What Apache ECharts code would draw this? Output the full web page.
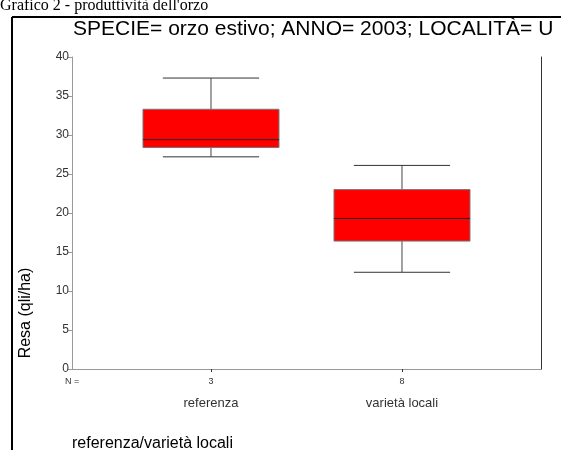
<!DOCTYPE html>
<html>
<head>
<meta charset="utf-8">
<script src="https://cdn.jsdelivr.net/npm/echarts@6/dist/echarts.min.js"></script>
<style>html,body{margin:0;padding:0;background:#fff;}#c{width:561px;height:450px;}</style>
</head>
<body>
<div id="c"></div>
<script>
// ---- data ----
const categories = ['referenza', 'varietà locali'];
const counts = [3, 8];
// [min, Q1, median, Q3, max]
const boxStats = [
  [27.2, 28.4, 29.4, 33.3, 37.3],
  [12.4, 16.4, 19.3, 23.0, 26.1]
];
const yTicks = [0, 5, 10, 15, 20, 25, 30, 35, 40];
const pageTitle = "Grafico 2 - produttività dell'orzo";
const chartTitle = 'SPECIE= orzo estivo; ANNO= 2003; LOCALITÀ= U';
const yName = 'Resa (qli/ha)';
const xName = 'referenza/varietà locali';

const seriesData = boxStats.map((s, i) => [i + 1].concat(s));
const catPos = categories.map((c, i) => i + 1);

const chart = echarts.init(document.getElementById('c'), null, {renderer: 'canvas'});
const font = 'Liberation Sans, Arial, sans-serif';

chart.setOption({
  animation: false,
  backgroundColor: '#fff',
  graphic: [
    {type: 'text', x: 0, y: 6, style: {text: pageTitle, font: '16px "Liberation Serif", "Times New Roman", serif', fill: '#000', verticalAlign: 'middle'}},
    {type: 'line', shape: {x1: 12, y1: 17, x2: 561, y2: 17}, style: {stroke: '#000', lineWidth: 2}},
    {type: 'line', shape: {x1: 12, y1: 17, x2: 12, y2: 450}, style: {stroke: '#000', lineWidth: 2}},
    {type: 'text', x: 73, y: 29, style: {text: chartTitle, font: '21px ' + font, fill: '#000', verticalAlign: 'middle'}},
    {type: 'text', x: 26, y: 313, rotation: Math.PI / 2, style: {text: yName, font: '16px ' + font, fill: '#000', align: 'center', verticalAlign: 'middle'}},
    {type: 'text', x: 65, y: 382, style: {text: 'N =', font: '9px ' + font, fill: '#333', verticalAlign: 'middle'}},
    {type: 'text', x: 72, y: 444, style: {text: xName, font: '16px ' + font, fill: '#000', verticalAlign: 'middle'}}
  ],
  grid: {left: 72, top: 57, width: 469, height: 312},
  xAxis: [{
    type: 'value', min: 0.2723, max: 2.7278, position: 'bottom',
    axisLine: {lineStyle: {color: '#333', width: 1}},
    splitLine: {show: false},
    axisTick: {customValues: catPos, length: 3, lineStyle: {color: '#333'}},
    axisLabel: {
      customValues: catPos, margin: 7,
      formatter: v => '{n|' + counts[Math.round(v) - 1] + '}\n{c|' + categories[Math.round(v) - 1] + '}',
      rich: {
        n: {fontSize: 9, fontFamily: font, color: '#333', lineHeight: 12},
        c: {fontSize: 13, fontFamily: font, color: '#333', lineHeight: 30}
      }
    }
  }, {
    type: 'value', min: 0.2723, max: 2.7278, position: 'top',
    axisLine: {lineStyle: {color: '#999'}}, axisTick: {show: false}, axisLabel: {show: false}, splitLine: {show: false}
  }],
  yAxis: [{
    type: 'value', min: 0, max: 40, interval: 5,
    axisLine: {show: true, lineStyle: {color: '#999'}},
    axisTick: {show: true, length: 4, lineStyle: {color: '#999'}},
    axisLabel: {fontSize: 12, fontFamily: font, color: '#333', margin: 3, formatter: v => yTicks.includes(v) ? String(v) : ''},
    splitLine: {show: false}
  }, {
    type: 'value', min: 0, max: 40, position: 'right',
    axisLine: {show: true, lineStyle: {color: '#333'}}, axisTick: {show: false}, axisLabel: {show: false}, splitLine: {show: false}
  }],
  series: [{
    type: 'custom',
    xAxisIndex: 0, yAxisIndex: 0,
    data: seriesData,
    encode: {x: 0, y: [1, 2, 3, 4, 5]},
    renderItem: function (params, api) {
      const x = api.value(0);
      const halfBox = 0.356, halfCap = 0.252;
      const pMin = api.coord([x, api.value(1)]);
      const pQ1 = api.coord([x, api.value(2)]);
      const pMed = api.coord([x, api.value(3)]);
      const pQ3 = api.coord([x, api.value(4)]);
      const pMax = api.coord([x, api.value(5)]);
      const left = api.coord([x - halfBox, 0])[0];
      const right = api.coord([x + halfBox, 0])[0];
      const cl = api.coord([x - halfCap, 0])[0];
      const cr = api.coord([x + halfCap, 0])[0];
      const cx = pMed[0];
      return {
        type: 'group',
        children: [
          {type: 'line', shape: {x1: cx, y1: pMax[1], x2: cx, y2: pQ3[1]}, style: {stroke: '#444', lineWidth: 1}},
          {type: 'line', shape: {x1: cx, y1: pQ1[1], x2: cx, y2: pMin[1]}, style: {stroke: '#444', lineWidth: 1}},
          {type: 'line', shape: {x1: cl, y1: pMax[1], x2: cr, y2: pMax[1]}, style: {stroke: '#333', lineWidth: 1}},
          {type: 'line', shape: {x1: cl, y1: pMin[1], x2: cr, y2: pMin[1]}, style: {stroke: '#333', lineWidth: 1}},
          {type: 'rect', shape: {x: left, y: pQ3[1], width: right - left, height: pQ1[1] - pQ3[1]}, style: {fill: '#ff0000', stroke: '#777', lineWidth: 1}},
          {type: 'line', shape: {x1: left, y1: pMed[1], x2: right, y2: pMed[1]}, style: {stroke: '#222', lineWidth: 1}}
        ]
      };
    }
  }]
});
</script>
</body>
</html>
